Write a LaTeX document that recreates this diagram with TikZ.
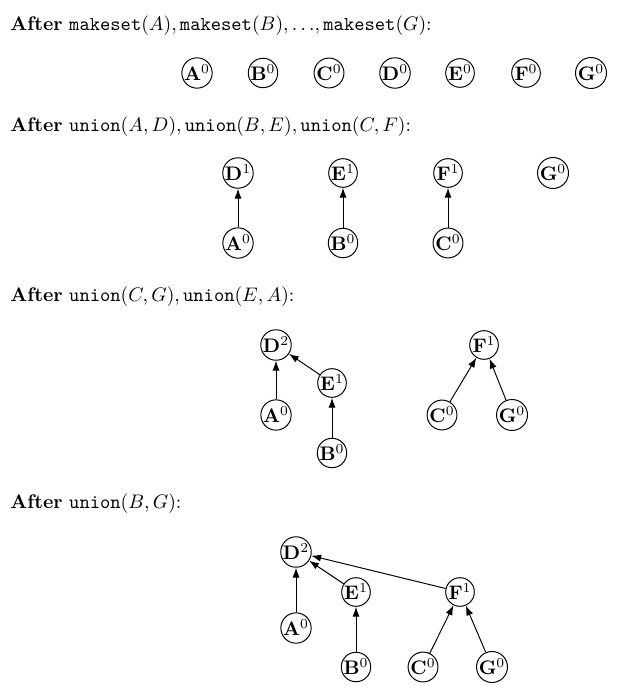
\documentclass[tikz,border=0pt]{standalone}
\usetikzlibrary{arrows.meta}
\begin{document}
\begin{tikzpicture}[x=0.51pt,y=-0.51pt,
  vtx/.style={circle,draw,line width=0.5pt,inner sep=0pt,minimum size=14.6pt,font=\normalsize},
  hdr/.style={anchor=base west,inner sep=0pt},
  edge/.style={-{Latex[length=5pt,width=3.6pt]},line width=0.5pt}]
\useasboundingbox (0,0) rectangle (619,699);
% header 1
\node[hdr] (h1) at (10,31) {\textbf{After} $\texttt{makeset}(A), \texttt{makeset}(B),{\ldots},\texttt{makeset}(G)$:};
\node[vtx] (a1) at (197,73) {\textbf{A}$^0$};
\node[vtx] (b1) at (263,73) {\textbf{B}$^0$};
\node[vtx] (c1) at (329,73) {\textbf{C}$^0$};
\node[vtx] (d1) at (395,73) {\textbf{D}$^0$};
\node[vtx] (e1) at (460,73) {\textbf{E}$^0$};
\node[vtx] (f1) at (526,73) {\textbf{F}$^0$};
\node[vtx] (g1) at (591,73) {\textbf{G}$^0$};
% header 2
\node[hdr] (h2) at (10,132) {\textbf{After} $\texttt{union}(A,D), \texttt{union}(B,E), \texttt{union}(C,F)$:};
\node[vtx] (d2) at (238,173) {\textbf{D}$^1$};
\node[vtx] (e2) at (343,173) {\textbf{E}$^1$};
\node[vtx] (f2) at (448,173) {\textbf{F}$^1$};
\node[vtx] (g2) at (553,173) {\textbf{G}$^0$};
\node[vtx] (a2) at (238,243) {\textbf{A}$^0$};
\node[vtx] (b2) at (343,243) {\textbf{B}$^0$};
\node[vtx] (c2) at (448,243) {\textbf{C}$^0$};
\draw[edge] (a2) -- (d2);
\draw[edge] (b2) -- (e2);
\draw[edge] (c2) -- (f2);
% header 3
\node[hdr] (h3) at (10,302) {\textbf{After} $\texttt{union}(C,G), \texttt{union}(E,A)$:};
\node[vtx] (d3) at (276,345) {\textbf{D}$^2$};
\node[vtx] (e3) at (332,383) {\textbf{E}$^1$};
\node[vtx] (a3) at (276,415) {\textbf{A}$^0$};
\node[vtx] (b3) at (332,453) {\textbf{B}$^0$};
\node[vtx] (f3) at (484,345) {\textbf{F}$^1$};
\node[vtx] (c3) at (442,415) {\textbf{C}$^0$};
\node[vtx] (g3) at (512,415) {\textbf{G}$^0$};
\draw[edge] (a3) -- (d3);
\draw[edge] (e3) -- (d3);
\draw[edge] (b3) -- (e3);
\draw[edge] (c3) -- (f3);
\draw[edge] (g3) -- (f3);
% header 4
\node[hdr] (h4) at (10,508) {\textbf{After} $\texttt{union}(B,G)$:};
\node[vtx] (d4) at (296,552) {\textbf{D}$^2$};
\node[vtx] (e4) at (356,592) {\textbf{E}$^1$};
\node[vtx] (f4) at (460,592) {\textbf{F}$^1$};
\node[vtx] (a4) at (296,628) {\textbf{A}$^0$};
\node[vtx] (b4) at (356,667) {\textbf{B}$^0$};
\node[vtx] (c4) at (423,667) {\textbf{C}$^0$};
\node[vtx] (g4) at (492,667) {\textbf{G}$^0$};
\draw[edge] (a4) -- (d4);
\draw[edge] (e4) -- (d4);
\draw[edge] (f4) -- (d4);
\draw[edge] (b4) -- (e4);
\draw[edge] (c4) -- (f4);
\draw[edge] (g4) -- (f4);
\end{tikzpicture}
\end{document}
